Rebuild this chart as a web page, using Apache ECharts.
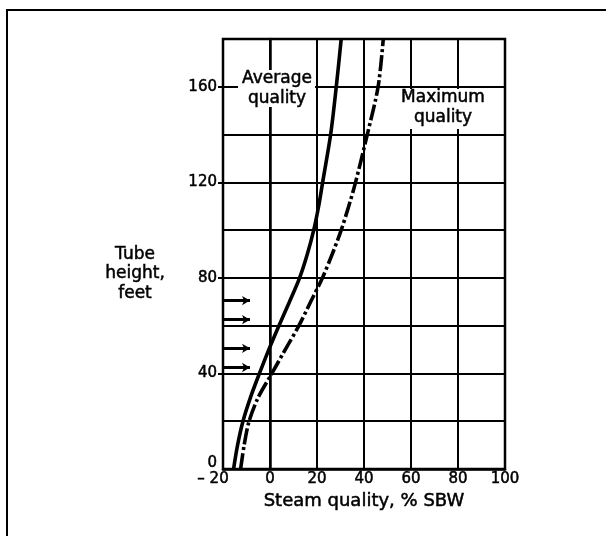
<!DOCTYPE html>
<html>
<head>
<meta charset="utf-8">
<script src="https://cdn.jsdelivr.net/npm/echarts@6/dist/echarts.min.js"></script>
<style>
	html, body { margin: 0; padding: 0; background: #fff; }
	#EchartDiv { width: 606px; height: 536px; }
</style>
</head>
<body>
<div id="EchartDiv"></div>
<script>
// 高度 (feet)
var tubeHeights = [0, 10, 20, 30, 40, 50, 60, 70, 80, 90, 100, 110, 120, 140, 160, 180];
// 平均干度 / 最大干度 (% SBW)
var avgQuality = [-15.5, -13.8, -11.5, -8.3, -4.5, -0.5, 3.8, 8.3, 12.6, 15.9, 18.6, 20.7, 22.4, 25.8, 28.2, 30.3];
var maxQuality = [-12.5, -11.0, -8.9, -5.0, 0.8, 6.5, 12.3, 17.3, 22.3, 26.5, 30.3, 33.5, 36.4, 41.4, 46.0, 48.2];
// 左侧箭头
var arrowHeights = [70.5, 62.5, 50.5, 42.5];
var arrowFrom = -20;
var arrowTo = -8.5;
// 刻度标签
var xTickLabels = [-20, 0, 20, 40, 60, 80, 100];
var yTickLabels = [0, 40, 80, 120, 160];
var yTickMarks = [40, 80, 120, 160];

var FONT = 'DejaVu Sans';
var INK = 0.5; // 文字稍微加粗, 接近扫描件

function pairs(xs, ys){
	var arr = [];
	for (var i = 0; i < xs.length; i++){
		arr.push([xs[i], ys[i]]);
	}
	return arr;
}

var arrowData = [];
for (var i = 0; i < arrowHeights.length; i++){
	arrowData.push([{coord: [arrowFrom, arrowHeights[i]]}, {coord: [arrowTo, arrowHeights[i]]}]);
}

var myChart = echarts.init(document.getElementById('EchartDiv'), null, {renderer: 'canvas'});
var option = {
	animation: false,
	backgroundColor: '#fff',
	grid: {
		left: 223,
		top: 39,
		width: 282,
		height: 430,
		show: true,
		borderColor: '#000',
		borderWidth: 2.5,
		backgroundColor: 'transparent'
	},
	xAxis: {
		type: 'value',
		min: -20,
		max: 100,
		interval: 20,
		name: 'Steam quality, % SBW',
		nameLocation: 'middle',
		nameGap: 22,
		nameTextStyle: {fontFamily: FONT, fontSize: 18, color: '#000', verticalAlign: 'top', textBorderColor: '#000', textBorderWidth: INK},
		axisLine: {show: true, lineStyle: {color: '#000', width: 2.5}},
		axisTick: {show: false},
		axisLabel: {
			margin: 3,
			fontFamily: FONT,
			fontSize: 15,
			color: '#000',
			textBorderColor: '#000',
			textBorderWidth: INK,
			formatter: function(v){
				if (xTickLabels.indexOf(v) < 0) return '';
				if (v === -20) return '{neg|– 20}';
				return v;
			},
			rich: {
				neg: {fontFamily: FONT, fontSize: 15, color: '#000', textBorderColor: '#000', textBorderWidth: INK, padding: [0, 20, 0, 0]}
			}
		},
		splitLine: {show: true, lineStyle: {color: '#000', width: 2}}
	},
	yAxis: [
		{
			// 网格线
			type: 'value',
			min: 0,
			max: 180,
			interval: 20,
			axisLine: {show: true, lineStyle: {color: '#000', width: 2.5}},
			axisTick: {show: false},
			axisLabel: {show: false},
			splitLine: {show: true, lineStyle: {color: '#000', width: 2.2}}
		},
		{
			// 标签和刻度
			type: 'value',
			position: 'left',
			min: 0,
			max: 180,
			axisLine: {show: false},
			axisTick: {show: true, customValues: yTickMarks, length: 5, lineStyle: {color: '#000', width: 2}},
			axisLabel: {
				customValues: yTickLabels,
				margin: 6,
				fontFamily: FONT,
				fontSize: 15,
				color: '#000',
				textBorderColor: '#000',
				textBorderWidth: INK,
				formatter: function(v){
					if (v === 0) return '{zero|0}';
					return v;
				},
				rich: {
					zero: {fontFamily: FONT, fontSize: 15, color: '#000', textBorderColor: '#000', textBorderWidth: INK, padding: [0, 0, 12, 0]}
				}
			},
			splitLine: {show: false}
		}
	],
	graphic: [
		// 外框
		{
			type: 'rect',
			z: 5,
			shape: {x: 7, y: 10, width: 800, height: 800},
			style: {fill: 'none', stroke: '#000', lineWidth: 2}
		},
		// Average quality
		{
			type: 'rect',
			z: 10,
			shape: {x: 238, y: 70, width: 77, height: 37},
			style: {fill: '#fff'}
		},
		{
			type: 'text',
			z: 11,
			x: 277,
			y: 89,
			style: {
				text: 'Average\nquality',
				font: '17px "DejaVu Sans"',
				fill: '#000',
				stroke: '#000',
				lineWidth: INK,
				align: 'center',
				verticalAlign: 'middle',
				lineHeight: 20
			}
		},
		// Maximum quality
		{
			type: 'rect',
			z: 10,
			shape: {x: 388, y: 89, width: 112, height: 40},
			style: {fill: '#fff'}
		},
		{
			type: 'text',
			z: 11,
			x: 443,
			y: 108,
			style: {
				text: 'Maximum\nquality',
				font: '17px "DejaVu Sans"',
				fill: '#000',
				stroke: '#000',
				lineWidth: INK,
				align: 'center',
				verticalAlign: 'middle',
				lineHeight: 20
			}
		},
		// y轴名称
		{
			type: 'text',
			z: 11,
			x: 135,
			y: 274,
			style: {
				text: 'Tube\nheight,\nfeet',
				font: '17px "DejaVu Sans"',
				fill: '#000',
				stroke: '#000',
				lineWidth: INK,
				align: 'center',
				verticalAlign: 'middle',
				lineHeight: 19.5
			}
		}
	],
	series: [
		{
			name: 'Average quality',
			type: 'line',
			data: pairs(avgQuality, tubeHeights),
			smooth: 0.3,
			showSymbol: false,
			symbol: 'none',
			z: 20,
			lineStyle: {color: '#000', width: 3.6, type: 'solid'},
			markLine: {
				silent: true,
				symbol: ['none', 'arrow'],
				symbolSize: [7, 8],
				label: {show: false},
				lineStyle: {color: '#000', width: 3, type: 'solid'},
				data: arrowData
			}
		},
		{
			name: 'Maximum quality',
			type: 'line',
			data: pairs(maxQuality, tubeHeights),
			smooth: 0.3,
			showSymbol: false,
			symbol: 'none',
			z: 20,
			lineStyle: {color: '#000', width: 3.6, type: [16, 3, 3, 3]}
		}
	]
};
myChart.setOption(option, true);
</script>
</body>
</html>
